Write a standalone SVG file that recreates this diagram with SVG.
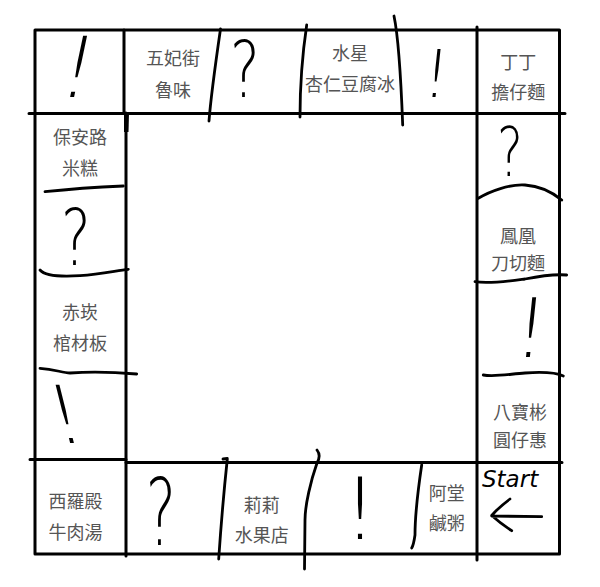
<svg xmlns="http://www.w3.org/2000/svg" width="600" height="587" viewBox="0 0 600 587">
<style>
.ln{fill:none;stroke:#000;stroke-width:3;stroke-linecap:round;stroke-linejoin:round}
.hd{fill:none;stroke:#000;stroke-width:2.8;stroke-linecap:round;stroke-linejoin:round}
.lb{font-family:"Noto Sans CJK TC","Noto Sans CJK SC",sans-serif;font-size:18px;fill:#555;text-anchor:middle}
.mk{font-family:"DejaVu Sans","Liberation Sans",sans-serif;font-weight:200;font-size:64px;fill:#000;text-anchor:middle}
.st{font-family:"DejaVu Sans","Liberation Sans",sans-serif;font-style:italic;font-size:23px;fill:#000}
</style>
<rect width="600" height="587" fill="#fff"/>
<g id="board-lines">
<path class="ln" d="M35,30 L559.5,30 M35,30 L35,554 M559.5,30 L559.5,554 M35,554 L559.5,554"/>
<path class="ln" d="M29,113.5 L565,113.5 M30,459.5 L126,459.5 M126,462.5 L562,462.5"/>
<path class="ln" d="M124,30 L124,113 M126,113 L126,556 M477,27 L477,560"/>
<path d="M124,113 L129,113 L128.5,132 L124,132 Z" fill="#000"/>
<path class="hd" d="M220.5,29 C216,60 211,95 209,121"/>
<path class="hd" d="M306.7,25 C303,50 300,80 300,117"/>
<path class="hd" d="M394,16 C398,35 401,80 402.7,125"/>
<path class="hd" d="M223,459 L227.3,458.5 M227.3,459 C224,490 221,525 218.7,559"/>
<path class="hd" d="M317,450 C321,455 319,460 316.7,464 C311,480 305,505 305,520 L304.5,569"/>
<path class="hd" d="M421.7,465 C418,490 415,515 415,535 C414,542 413,546 411.7,548"/>
<path class="hd" d="M45,191.7 C70,189 100,187 123.3,186"/>
<path class="hd" d="M40,270 C45,276 60,277 80,275.7 C100,274 115,271 128.3,269.3"/>
<path class="hd" d="M40,368.3 C55,369 62,373 70,373 C85,372 100,371 136.7,374"/>
<path class="hd" d="M478.3,198.3 C490,191 510,184 525,185 C540,186 552,192 561.7,200"/>
<path class="hd" d="M475,281.7 C490,284 510,281 525,279 C540,276 555,274 566.7,275"/>
<path class="hd" d="M483.3,375 C495,377 510,374 525,373 C540,372 555,372 563.3,376"/>
</g>
<g id="cell-corner-tl"><text class="mk" style="font-size:84px" transform="translate(72,97) skewX(-12)">!</text></g>
<g id="cell-wufeijie"><text class="lb" x="173" y="65">五妃街</text><text class="lb" x="173" y="97">魯味</text></g>
<g id="cell-chance-top"><text class="mk" style="font-size:78px" transform="translate(245,97) scale(0.72,1)">?</text></g>
<g id="cell-shuixing"><text class="lb" x="350" y="60">水星</text><text class="lb" x="350" y="91">杏仁豆腐冰</text></g>
<g id="cell-fate-top"><text class="mk" style="font-size:66px" transform="translate(434,97) skewX(-6)">!</text></g>
<g id="cell-dingding"><text class="lb" x="518.3" y="68.5">丁丁</text><text class="lb" x="518.3" y="99">擔仔麵</text></g>
<g id="cell-baoanlu"><text class="lb" x="80" y="143.5">保安路</text><text class="lb" x="80" y="175">米糕</text></g>
<g id="cell-chance-left"><text class="mk" style="font-size:78px" transform="translate(76,265) scale(0.72,1)">?</text></g>
<g id="cell-chikan"><text class="lb" x="80" y="318.5">赤崁</text><text class="lb" x="80" y="350">棺材板</text></g>
<g id="cell-fate-left"><text class="mk" style="font-size:80px" transform="translate(72,443) skewX(14)">!</text></g>
<g id="cell-chance-right"><text class="mk" style="font-size:68px" transform="translate(510,176) scale(0.72,1)">?</text></g>
<g id="cell-fenghuang"><text class="lb" x="518" y="243">鳳凰</text><text class="lb" x="518" y="270">刀切麵</text></g>
<g id="cell-fate-right"><text class="mk" style="font-size:82px" transform="translate(528,357) skewX(-6)">!</text></g>
<g id="cell-babaobin"><text class="lb" x="520" y="418.5">八寶彬</text><text class="lb" x="520" y="447">圓仔惠</text></g>
<g id="cell-xiluodian"><text class="lb" x="75.5" y="508">西羅殿</text><text class="lb" x="75.5" y="538.5">牛肉湯</text></g>
<g id="cell-chance-bottom"><text class="mk" style="font-size:92px" transform="translate(161,545) scale(0.62,1)">?</text></g>
<g id="cell-lili"><text class="lb" x="261.7" y="512">莉莉</text><text class="lb" x="261.7" y="542">水果店</text></g>
<g id="cell-fate-bottom"><text class="mk" style="font-size:86px" transform="translate(360,539)">!</text></g>
<g id="cell-atang"><text class="lb" x="446.7" y="500">阿堂</text><text class="lb" x="446.7" y="530">鹹粥</text></g>
<g id="cell-start"><text class="st" x="482" y="487">Start</text>
<path class="hd" d="M541.7,516.7 L491.7,516 M510,499 Q498,508 491.7,515.5 Q500,523 511.7,530.7"/></g>
</svg>
